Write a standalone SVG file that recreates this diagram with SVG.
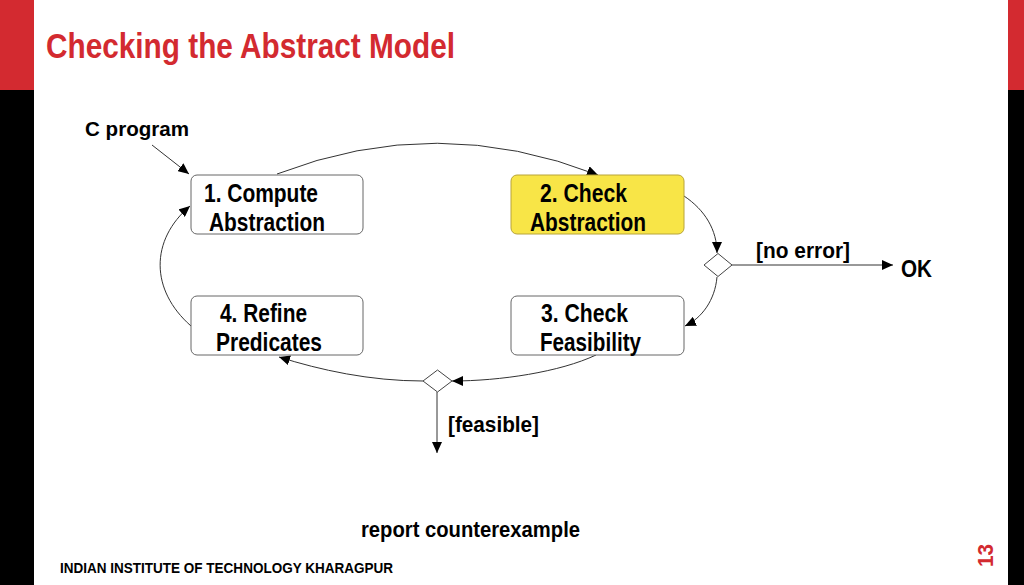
<svg xmlns="http://www.w3.org/2000/svg" width="1024" height="585" viewBox="0 0 1024 585">
<style>
.t{font-family:"Liberation Sans",Arial,sans-serif;font-weight:bold;fill:#000}
.box{fill:#fff;stroke:#666;stroke-width:1}
.conn{fill:none;stroke:#333;stroke-width:1}
.dia{fill:#fff;stroke:#444;stroke-width:1}
</style>
<defs>
<marker id="ah" markerUnits="userSpaceOnUse" markerWidth="12" markerHeight="10" refX="11" refY="5" orient="auto">
<path d="M0,0 L11,5 L0,10 Z" fill="#000"/>
</marker>
</defs>
<rect x="0" y="0" width="1024" height="585" fill="#fff"/>
<rect x="0" y="0" width="34" height="90" fill="#d32a30"/>
<rect x="0" y="90" width="34" height="495" fill="#000"/>
<rect x="1008" y="0" width="16" height="90" fill="#d32a30"/>
<rect x="1008" y="90" width="16" height="495" fill="#000"/>
<text x="46" y="58" class="t" style="fill:#d32a30" font-size="35" textLength="409" lengthAdjust="spacingAndGlyphs">Checking the Abstract Model</text>

<g id="connectors">
<path class="conn" d="M152,145 L189,174" marker-end="url(#ah)"/>
<path class="conn" d="M277,174 Q437,112 598,175" marker-end="url(#ah)"/>
<path class="conn" d="M684,196 C705,210 717,230 717,253" marker-end="url(#ah)"/>
<path class="conn" d="M732,265 L893,265" marker-end="url(#ah)"/>
<path class="conn" d="M717,277 C715,300 702,318 685,326" marker-end="url(#ah)"/>
<path class="conn" d="M596,355 C560,372 500,381 452,381" marker-end="url(#ah)"/>
<path class="conn" d="M423,381 C370,381 320,370 279,357" marker-end="url(#ah)"/>
<path class="conn" d="M191,326 C150,290 150,240 190,206" marker-end="url(#ah)"/>
<path class="conn" d="M437,392 L437,453" marker-end="url(#ah)"/>
</g>

<g id="cprog"><text x="85" y="136" class="t" font-size="21" textLength="104" lengthAdjust="spacingAndGlyphs">C program</text></g>

<g id="n1">
<rect class="box" x="191" y="175" width="172" height="59" rx="6"/>
<text x="204" y="202" class="t" font-size="25" textLength="114" lengthAdjust="spacingAndGlyphs">1. Compute</text>
<text x="209" y="231" class="t" font-size="25" textLength="116" lengthAdjust="spacingAndGlyphs">Abstraction</text>
</g>
<g id="n2">
<rect x="511" y="175" width="173" height="59" rx="6" fill="#f8e547" stroke="#b8a43a" stroke-width="1"/>
<text x="540" y="202" class="t" font-size="25" textLength="87" lengthAdjust="spacingAndGlyphs">2. Check</text>
<text x="530" y="231" class="t" font-size="25" textLength="116" lengthAdjust="spacingAndGlyphs">Abstraction</text>
</g>
<g id="n3">
<rect class="box" x="511" y="296" width="173" height="59" rx="6"/>
<text x="541" y="322" class="t" font-size="25" textLength="87" lengthAdjust="spacingAndGlyphs">3. Check</text>
<text x="540" y="351" class="t" font-size="25" textLength="101" lengthAdjust="spacingAndGlyphs">Feasibility</text>
</g>
<g id="n4">
<rect class="box" x="191" y="296" width="172" height="59" rx="6"/>
<text x="220" y="322" class="t" font-size="25" textLength="87" lengthAdjust="spacingAndGlyphs">4. Refine</text>
<text x="216" y="351" class="t" font-size="25" textLength="106" lengthAdjust="spacingAndGlyphs">Predicates</text>
</g>
<g id="d1"><path class="dia" d="M704,265 L718,253.5 L732,265 L718,276.5 Z"/></g>
<g id="d2"><path class="dia" d="M423,381 L437.5,370 L452,381 L437.5,392 Z"/></g>

<g id="labels">
<text x="756" y="258" class="t" font-size="22" textLength="94" lengthAdjust="spacingAndGlyphs">[no error]</text>
<text x="901" y="277" class="t" font-size="23" textLength="31" lengthAdjust="spacingAndGlyphs">OK</text>
<text x="448" y="432" class="t" font-size="22" textLength="91" lengthAdjust="spacingAndGlyphs">[feasible]</text>
<text x="361" y="537" class="t" font-size="22" textLength="219" lengthAdjust="spacingAndGlyphs">report counterexample</text>
</g>
<text x="60" y="573" class="t" font-size="15" textLength="333" lengthAdjust="spacingAndGlyphs">INDIAN INSTITUTE OF TECHNOLOGY KHARAGPUR</text>
<text transform="translate(993,567) rotate(-90)" class="t" style="fill:#d32a30" font-size="22" textLength="23" lengthAdjust="spacingAndGlyphs">13</text>
</svg>
